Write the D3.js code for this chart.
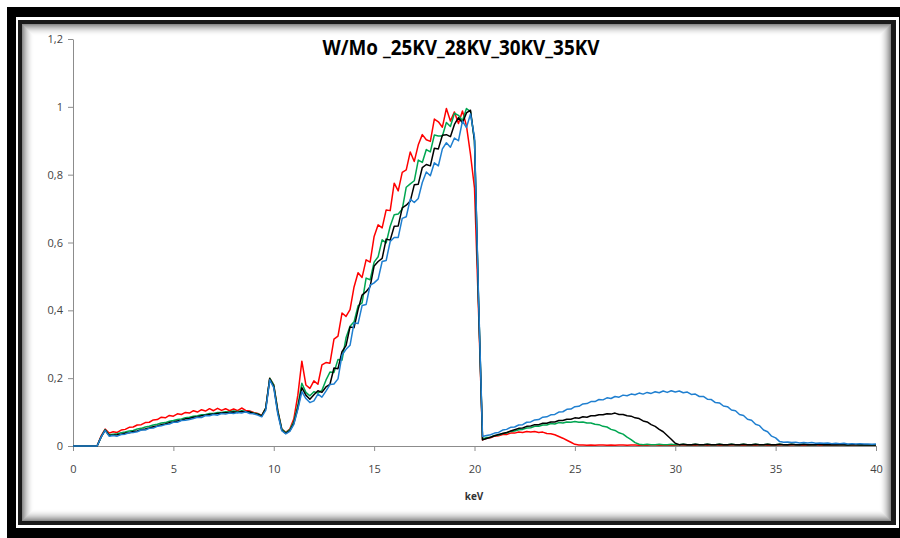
<!DOCTYPE html>
<html>
<head>
<meta charset="utf-8">
<script src="https://cdn.jsdelivr.net/npm/d3@7"></script>
<style>
  body { margin: 0; background: #fff; }
  svg { display: block; }
  .tick text { font-family: "Open Sans", sans-serif; font-size: 11px; fill: #444; }
</style>
</head>
<body>
<div id="chart"></div>
<script>
"use strict";

// energy grid, 0.2 keV per step (0 .. 40 keV)
const keV = d3.range(201).map(i => +(i * 0.2).toFixed(1));

// normalised intensities, 10 values per 2 keV
const kv25 = [
  0,0,0,0,0,0,0,0.03,0.05,0.038,
  0.042,0.04,0.047,0.049,0.055,0.056,0.062,0.063,0.069,0.07,
  0.077,0.078,0.085,0.083,0.09,0.088,0.095,0.093,0.099,0.097,
  0.104,0.1,0.107,0.103,0.11,0.104,0.111,0.105,0.11,0.104,
  0.109,0.104,0.112,0.105,0.103,0.099,0.096,0.09,0.112,0.2,
  0.18,0.105,0.05,0.04,0.05,0.08,0.15,0.25,0.18,0.17,
  0.192,0.182,0.239,0.246,0.244,0.315,0.324,0.392,0.382,0.402,
  0.469,0.511,0.497,0.549,0.542,0.618,0.652,0.643,0.696,0.694,
  0.775,0.752,0.807,0.814,0.867,0.839,0.888,0.918,0.903,0.898,
  0.964,0.956,0.94,0.995,0.958,0.985,0.951,0.988,0.944,0.86,
  0.76,0.4,0.018,0.023,0.024,0.029,0.03,0.034,0.034,0.038,
  0.038,0.041,0.04,0.043,0.041,0.043,0.04,0.041,0.037,0.036,
  0.033,0.028,0.023,0.017,0.011,0.005,0.003,0.003,0.002,0.003,
  0.002,0.003,0.003,0.002,0.003,0.002,0.003,0.003,0.002,0.003,
  0.003,0.002,0.003,0.002,0.003,0.003,0.002,0.003,0.002,0.003,
  0.002,0.003,0.003,0.002,0.003,0.002,0.003,0.003,0.002,0.003,
  0.003,0.002,0.003,0.002,0.003,0.003,0.002,0.003,0.002,0.003,
  0.002,0.003,0.003,0.002,0.003,0.002,0.003,0.003,0.002,0.003,
  0.003,0.002,0.003,0.002,0.003,0.003,0.002,0.003,0.002,0.003,
  0.002,0.003,0.003,0.002,0.003,0.002,0.003,0.003,0.002,0.003,
  0.002
];

const kv28 = [
  0,0,0,0,0,0,0,0.027,0.048,0.033,
  0.035,0.036,0.039,0.041,0.044,0.046,0.05,0.052,0.056,0.058,
  0.062,0.064,0.068,0.069,0.073,0.075,0.078,0.08,0.083,0.085,
  0.088,0.089,0.092,0.093,0.096,0.096,0.099,0.099,0.101,0.1,
  0.103,0.101,0.104,0.102,0.101,0.097,0.095,0.089,0.112,0.2,
  0.18,0.104,0.05,0.039,0.048,0.072,0.12,0.185,0.158,0.148,
  0.16,0.156,0.164,0.194,0.218,0.217,0.255,0.253,0.319,0.353,
  0.366,0.413,0.422,0.495,0.49,0.542,0.558,0.608,0.599,0.648,
  0.682,0.684,0.698,0.763,0.773,0.782,0.843,0.836,0.874,0.867,
  0.917,0.914,0.914,0.954,0.942,0.981,0.975,0.959,0.995,0.986,
  0.9,0.43,0.02,0.025,0.026,0.031,0.032,0.037,0.038,0.043,
  0.044,0.048,0.049,0.053,0.054,0.058,0.058,0.062,0.062,0.066,
  0.065,0.069,0.068,0.071,0.07,0.072,0.07,0.071,0.068,0.068,
  0.064,0.063,0.058,0.056,0.049,0.046,0.039,0.035,0.026,0.019,
  0.01,0.005,0.004,0.005,0.004,0.004,0.005,0.004,0.004,0.005,
  0.004,0.004,0.005,0.004,0.004,0.005,0.004,0.004,0.005,0.004,
  0.004,0.005,0.004,0.004,0.005,0.004,0.004,0.005,0.004,0.004,
  0.005,0.004,0.004,0.005,0.004,0.004,0.005,0.004,0.004,0.005,
  0.004,0.004,0.005,0.004,0.004,0.004,0.005,0.004,0.004,0.004,
  0.004,0.004,0.004,0.003,0.004,0.004,0.003,0.004,0.003,0.004,
  0.003
];

const kv30 = [
  0,0,0,0,0,0,0,0.026,0.047,0.031,
  0.032,0.033,0.035,0.038,0.039,0.043,0.044,0.048,0.05,0.053,
  0.057,0.059,0.063,0.065,0.069,0.071,0.074,0.076,0.08,0.081,
  0.085,0.086,0.089,0.091,0.093,0.094,0.096,0.097,0.098,0.099,
  0.1,0.099,0.102,0.101,0.1,0.096,0.094,0.088,0.11,0.198,
  0.176,0.1,0.047,0.037,0.045,0.067,0.112,0.172,0.15,0.138,
  0.151,0.163,0.158,0.174,0.182,0.23,0.228,0.278,0.296,0.351,
  0.349,0.402,0.445,0.455,0.47,0.531,0.544,0.553,0.61,0.607,
  0.648,0.649,0.702,0.71,0.722,0.77,0.772,0.821,0.83,0.826,
  0.878,0.876,0.916,0.918,0.912,0.948,0.968,0.953,0.982,0.99,
  0.9,0.43,0.018,0.022,0.026,0.03,0.034,0.037,0.04,0.044,
  0.048,0.052,0.053,0.058,0.059,0.063,0.063,0.067,0.067,0.071,
  0.071,0.075,0.075,0.079,0.079,0.083,0.082,0.086,0.085,0.089,
  0.089,0.092,0.092,0.095,0.094,0.097,0.093,0.093,0.089,0.088,
  0.083,0.081,0.074,0.071,0.063,0.058,0.049,0.042,0.031,0.02,
  0.008,0.004,0.005,0.004,0.004,0.005,0.004,0.004,0.005,0.004,
  0.004,0.005,0.004,0.004,0.005,0.004,0.004,0.005,0.004,0.004,
  0.005,0.004,0.004,0.005,0.004,0.004,0.005,0.004,0.004,0.005,
  0.004,0.004,0.005,0.004,0.004,0.004,0.005,0.004,0.004,0.004,
  0.004,0.004,0.004,0.003,0.004,0.004,0.003,0.004,0.003,0.004,
  0.003
];

const kv35 = [
  0,0,0,0,0,0,0,0.026,0.046,0.029,
  0.031,0.029,0.034,0.035,0.039,0.04,0.042,0.047,0.047,0.052,
  0.053,0.058,0.06,0.063,0.065,0.07,0.07,0.075,0.076,0.078,
  0.081,0.085,0.084,0.09,0.089,0.093,0.091,0.096,0.094,0.097,
  0.096,0.099,0.097,0.101,0.096,0.095,0.091,0.086,0.105,0.195,
  0.172,0.095,0.045,0.036,0.043,0.064,0.108,0.16,0.14,0.128,
  0.133,0.153,0.144,0.162,0.181,0.183,0.198,0.268,0.285,0.297,
  0.363,0.361,0.414,0.417,0.474,0.481,0.492,0.544,0.547,0.603,
  0.615,0.615,0.671,0.676,0.728,0.718,0.73,0.777,0.808,0.797,
  0.835,0.826,0.876,0.894,0.881,0.908,0.9,0.958,0.939,0.979,
  0.91,0.44,0.028,0.031,0.033,0.038,0.04,0.047,0.049,0.055,
  0.056,0.062,0.063,0.07,0.071,0.077,0.078,0.085,0.086,0.092,
  0.093,0.1,0.101,0.108,0.109,0.116,0.117,0.124,0.125,0.131,
  0.131,0.137,0.136,0.142,0.14,0.146,0.144,0.15,0.148,0.153,
  0.151,0.156,0.153,0.158,0.155,0.16,0.157,0.162,0.158,0.163,
  0.159,0.162,0.157,0.159,0.152,0.153,0.146,0.146,0.138,0.137,
  0.128,0.127,0.118,0.116,0.106,0.104,0.093,0.09,0.079,0.076,
  0.064,0.06,0.047,0.042,0.029,0.024,0.013,0.011,0.012,0.01,
  0.011,0.009,0.01,0.009,0.01,0.008,0.009,0.008,0.009,0.007,
  0.008,0.007,0.008,0.006,0.007,0.006,0.007,0.006,0.006,0.005,
  0.006
];

const series = [
  { name: "25KV", values: kv25, colour: "#ff0000" },
  { name: "28KV", values: kv28, colour: "#00a651" },
  { name: "30KV", values: kv30, colour: "#000000" },
  { name: "35KV", values: kv35, colour: "#1f7fd0" },
];

const xTicks = [0, 5, 10, 15, 20, 25, 30, 35, 40];
const yTicks = [0, 0.2, 0.4, 0.6, 0.8, 1, 1.2];
const title = "W/Mo _25KV_28KV_30KV_35KV";
const xTitle = "keV";

series.forEach(s => {
  if (s.values.length !== keV.length) throw new Error(s.name + " has " + s.values.length);
});

const W = 900, H = 538;

const svg = d3.select("#chart").append("svg")
  .attr("width", W)
  .attr("height", H);

// picture frame: thick black border, white rule, thin dark rule, inner shadow
svg.append("rect").attr("x", 7).attr("y", 7).attr("width", W).attr("height", H)
  .attr("fill", "#000");
svg.append("rect").attr("x", 16).attr("y", 17).attr("width", 883).attr("height", 511)
  .attr("fill", "#fff");
svg.append("rect").attr("x", 18).attr("y", 20).attr("width", 878).attr("height", 505)
  .attr("fill", "#1a1a1a");
svg.append("rect").attr("x", 22).attr("y", 24).attr("width", 869).attr("height", 497)
  .attr("fill", "#fff");

const shadow = svg.append("g").attr("class", "shadow");
for (let k = 0; k < 12; k++) {
  shadow.append("rect")
    .attr("x", 22.5 + k).attr("y", 24.5 + k)
    .attr("width", 868 - 2 * k).attr("height", 496 - 2 * k)
    .attr("fill", "none")
    .attr("stroke", "#000")
    .attr("stroke-opacity", 0.45 * Math.pow(1 - k / 12, 2));
}

const x = d3.scaleLinear().domain([0, 40]).range([73, 876]);
const y = d3.scaleLinear().domain([0, 1.2]).range([446, 39]);

const comma = d3.formatLocale({ decimal: ",", thousands: ".", grouping: [3], currency: ["", ""] });
const fmt = comma.format("~g");

const yAxis = svg.append("g")
  .attr("transform", "translate(73,0)")
  .call(d3.axisLeft(y).tickValues(yTicks).tickFormat(fmt).tickSize(5).tickSizeOuter(0).tickPadding(5));

const xAxis = svg.append("g")
  .attr("transform", "translate(0,446)")
  .call(d3.axisBottom(x).tickValues(xTicks).tickFormat(fmt).tickSize(5).tickSizeOuter(0).tickPadding(14));

[xAxis, yAxis].forEach(a => {
  a.select(".domain").attr("stroke", "#8c8c8c");
  a.selectAll(".tick line").attr("stroke", "#8c8c8c");
});

const line = d3.line()
  .x((d, i) => x(keV[i]))
  .y(d => y(d));

svg.append("g").attr("class", "series")
  .selectAll("path")
  .data(series)
  .join("path")
  .attr("d", s => line(s.values))
  .attr("fill", "none")
  .attr("stroke", s => s.colour)
  .attr("stroke-width", 1.5)
  .attr("stroke-linejoin", "round");

svg.append("text")
  .attr("x", 461)
  .attr("y", 55)
  .attr("text-anchor", "middle")
  .attr("textLength", 277)
  .attr("lengthAdjust", "spacingAndGlyphs")
  .style("font-family", "'Open Sans', sans-serif")
  .style("font-weight", "bold")
  .style("font-size", "21px")
  .text(title);

svg.append("text")
  .attr("x", 474)
  .attr("y", 500)
  .attr("text-anchor", "middle")
  .style("font-family", "'Open Sans', sans-serif")
  .style("font-weight", "bold")
  .style("font-size", "10px")
  .style("fill", "#333")
  .text(xTitle);
</script>
</body>
</html>
